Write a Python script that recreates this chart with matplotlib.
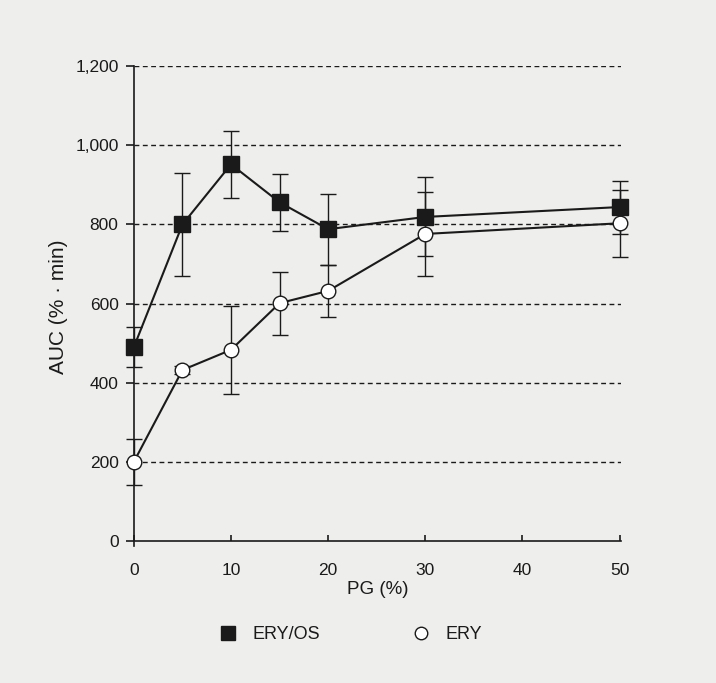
import matplotlib
matplotlib.use("Agg")
import matplotlib.pyplot as plt
from matplotlib.lines import Line2D

plt.rcParams['font.family'] = ['Liberation Sans', 'DejaVu Sans']

pg = [0, 5, 10, 15, 20, 30, 50]

# ERY/OS (filled squares)
ery_os = [490, 800, 952, 856, 788, 819, 844]
ery_os_err = [50, 130, 85, 72, 90, 100, 67]

# ERY (open circles)
ery = [200, 432, 483, 601, 632, 776, 803]
ery_err = [58, 10, 112, 80, 66, 107, 85]

yticks = [0, 200, 400, 600, 800, 1000, 1200]
ytick_labels = ['0', '200', '400', '600', '800', '1,000', '1,200']
xticks = [0, 10, 20, 30, 40, 50]

bg = '#eeeeec'
ink = '#1a1a1a'

fig = plt.figure(figsize=(7.16, 6.83), dpi=100, facecolor=bg)
ax = fig.add_axes([0.187, 0.2, 0.681, 0.703], facecolor=bg)

# dashed grid lines
for y in yticks[1:]:
    ax.axhline(y, color=ink, linestyle=(0, (3.5, 2.5)), linewidth=1.0, zorder=1)

ax.errorbar(pg, ery_os, yerr=ery_os_err, fmt='none', ecolor=ink,
            elinewidth=1.0, capsize=6, capthick=1.0, zorder=2, clip_on=False)
ax.errorbar(pg, ery, yerr=ery_err, fmt='none', ecolor=ink,
            elinewidth=1.0, capsize=6, capthick=1.0, zorder=2, clip_on=False)

ax.plot(pg, ery_os, color=ink, linewidth=1.5, marker='s', markersize=11,
        markerfacecolor=ink, markeredgecolor=ink, zorder=4, clip_on=False)
ax.plot(pg, ery, color=ink, linewidth=1.5, marker='o', markersize=10.5,
        markerfacecolor='white', markeredgecolor=ink, markeredgewidth=1.0,
        zorder=3, clip_on=False)

ax.set_xlim(0, 50.2)
ax.set_ylim(-14, 1200)
ax.spines['bottom'].set_position(('data', 0))
ax.set_xticks(xticks)
ax.set_yticks(yticks)
ax.set_yticklabels(ytick_labels)

for s in ['top', 'right']:
    ax.spines[s].set_visible(False)
for s in ['left', 'bottom']:
    ax.spines[s].set_color(ink)
    ax.spines[s].set_linewidth(1.2)
ax.tick_params(axis='y', direction='out', length=6, width=1.2, color=ink,
               labelsize=12.5, labelcolor=ink, pad=5)
ax.tick_params(axis='x', direction='in', length=4.5, width=1.2, color=ink,
               labelsize=12.5, labelcolor=ink, pad=16)

ax.set_xlabel('PG (%)', fontsize=13.5, color=ink, labelpad=2)
ax.set_ylabel('AUC (% · min)', fontsize=15, color=ink, labelpad=5)

# legend below the plot
handles = [
    Line2D([], [], linestyle='none', marker='s', markersize=9.5,
           markerfacecolor=ink, markeredgecolor=ink),
    Line2D([], [], linestyle='none', marker='o', markersize=9,
           markerfacecolor='white', markeredgecolor=ink),
]
fig.legend(handles, ['ERY/OS', 'ERY'], loc='center left', ncol=2,
           bbox_to_anchor=(0.306, 0.071), frameon=False, fontsize=13,
           borderpad=0, borderaxespad=0, handlelength=1, handletextpad=0.85,
           columnspacing=5.1, labelcolor=ink)

fig.savefig('out.png', dpi=100, facecolor=bg)
